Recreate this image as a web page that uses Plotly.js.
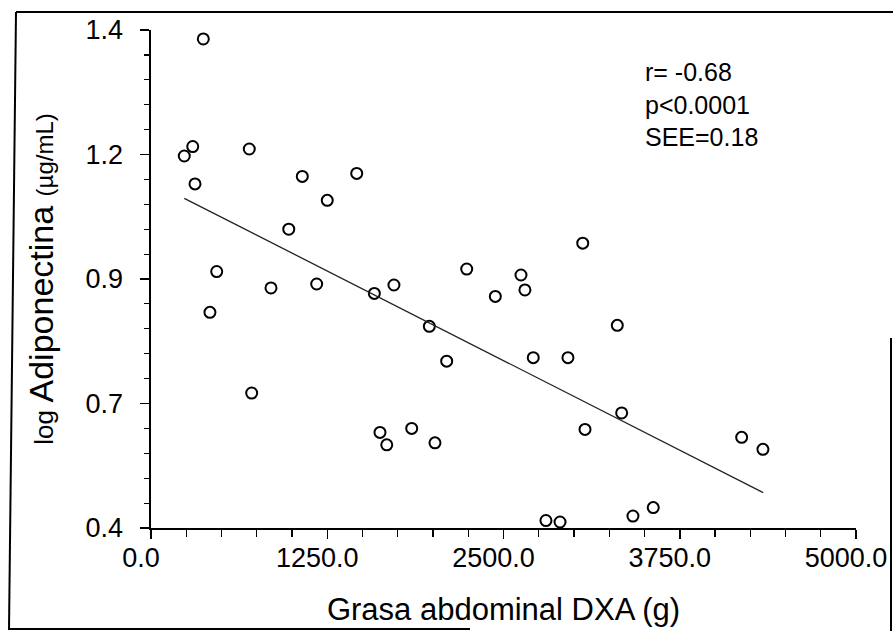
<!DOCTYPE html>
<html>
<head>
<meta charset="utf-8">
<script src="https://cdn.plot.ly/plotly-3.0.1.min.js"></script>
<style>html,body{margin:0;padding:0;background:#fff;}#chart{width:893px;height:631px;}</style>
</head>
<body>
<div id="chart"></div>
<script>
// Abdominal fat (g) vs log adiponectin (µg/mL)
const grasaX = [371, 296, 236, 697, 312, 1073, 1459, 1250, 977, 466,
                851, 1175, 1584, 418, 714, 1624, 1672, 1723, 2239, 2624,
                2652, 2442, 3062, 1974, 3307, 2097, 2711, 2957, 3338, 3078,
                1849, 2014, 2801, 2901, 3418, 3562, 4189, 4340];
const logAdipo = [1.382, 1.166, 1.147, 1.161, 1.091, 1.106, 1.112, 1.058, 1.000, 0.915,
                  0.882, 0.890, 0.871, 0.833, 0.671, 0.592, 0.567, 0.888, 0.920, 0.908,
                  0.878, 0.865, 0.972, 0.805, 0.807, 0.735, 0.742, 0.742, 0.631, 0.598,
                  0.600, 0.571, 0.415, 0.412, 0.424, 0.441, 0.582, 0.558];
// regression line end points
const fitX = [236, 4342];
const fitY = [1.062, 0.471];
// axis ticks
const xTickVals = [0, 1250, 2500, 3750, 5000];
const xTickText = ['0.0', '1250.0', '2500.0', '3750.0', '5000.0'];
const yTickVals = [0.4, 0.65, 0.9, 1.15, 1.4];
const yTickText = ['0.4', '0.7', '0.9', '1.2', '1.4'];
const statsLines = ['r= -0.68', 'p<0.0001', 'SEE=0.18'];

const FONT = 'Liberation Sans, Arial, Helvetica, sans-serif';
const W = 893, H = 631, L = 151, R = 37, T = 30, B = 103;
const pw = W - L - R, ph = H - T - B;
const px = v => (v - L) / pw;
const py = v => (H - B - v) / ph;

const xMinor = [], yMinor = [];
for (let i = 0; i <= 20; i++) xMinor.push(i * 250);
for (let i = 0; i <= 20; i++) yMinor.push(+(0.4 + i * 0.05).toFixed(2));

const traces = [
  {x: grasaX, y: logAdipo, type: 'scatter', mode: 'markers',
   marker: {symbol: 'circle-open', size: 11, color: '#000', line: {width: 2, color: '#000'}},
   showlegend: false, hoverinfo: 'x+y'},
  {x: fitX, y: fitY, type: 'scatter', mode: 'lines',
   line: {color: '#222', width: 1.3}, showlegend: false, hoverinfo: 'skip'}
];

const frame = {type: 'line', xref: 'paper', yref: 'paper', line: {color: '#000', width: 2}};
const layout = {
  width: W, height: H,
  margin: {l: L, r: R, t: T, b: B, pad: 0},
  paper_bgcolor: '#fff', plot_bgcolor: '#fff',
  font: {family: FONT, color: '#000'},
  xaxis: {
    range: [0, 5000], tickmode: 'array', tickvals: xTickVals, ticktext: xTickText,
    ticks: 'outside', ticklen: 9, tickwidth: 1.5, tickcolor: '#000',
    minor: {tickmode: 'array', tickvals: xMinor, ticks: 'outside', ticklen: 7, tickwidth: 1.2, tickcolor: '#000', showgrid: false},
    showline: true, linewidth: 2, linecolor: '#000', showgrid: false, zeroline: false,
    tickfont: {family: FONT, size: 27, color: '#000'},
    ticklabelshift: -10, ticklabelstandoff: -4,
    title: {text: 'Grasa abdominal DXA (g)', font: {family: FONT, size: 31, color: '#000'}, standoff: 26}
  },
  yaxis: {
    range: [0.4, 1.4], tickmode: 'array', tickvals: yTickVals, ticktext: yTickText,
    ticks: 'outside', ticklen: 9, tickwidth: 1.5, tickcolor: '#000',
    minor: {tickmode: 'array', tickvals: yMinor, ticks: 'outside', ticklen: 5, tickwidth: 1.2, tickcolor: '#000', showgrid: false},
    showline: true, linewidth: 2.5, linecolor: '#000', showgrid: false, zeroline: false,
    tickfont: {family: FONT, size: 27, color: '#000'},
    ticklabelstandoff: 11,
    title: {text: '<span style="font-size:26px">log</span> Adiponectina <span style="font-size:24px">(µg/mL)</span>',
            font: {family: FONT, size: 34, color: '#000'}, standoff: 22}
  },
  annotations: [{
    xref: 'x', yref: 'paper', x: 3489, y: py(56), xanchor: 'left', yanchor: 'top', align: 'left',
    text: statsLines.join('<br>'), showarrow: false,
    font: {family: FONT, size: 25, color: '#000'}
  }],
  shapes: [
    Object.assign({}, frame, {x0: px(16), y0: py(12), x1: px(893), y1: py(12)}),
    Object.assign({}, frame, {x0: px(16), y0: py(12), x1: px(9), y1: py(630)}),
    Object.assign({}, frame, {x0: px(9), y0: py(629), x1: px(470), y1: py(629)}),
    Object.assign({}, frame, {x0: px(891), y0: py(338), x1: px(891), y1: py(631)})
  ]
};

Plotly.newPlot('chart', traces, layout, {displayModeBar: false, staticPlot: true});
</script>
</body>
</html>
